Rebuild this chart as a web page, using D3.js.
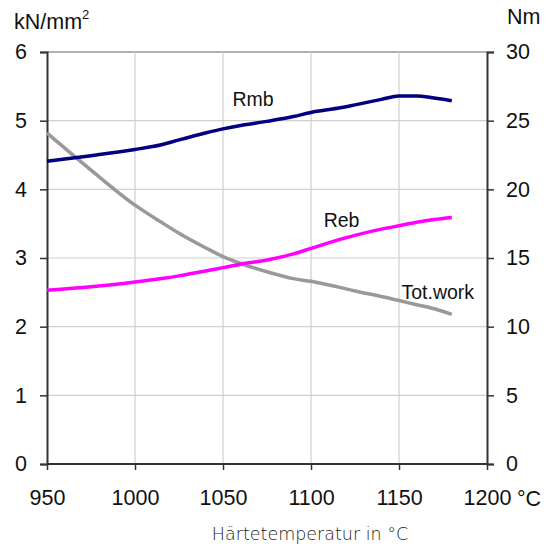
<!DOCTYPE html>
<html>
<head>
<meta charset="utf-8">
<script src="https://cdn.jsdelivr.net/npm/d3@7"></script>
<style>
  body { margin: 0; background: #fff; }
  text { font-family: "Liberation Sans", Arial, sans-serif; }
</style>
</head>
<body>
<svg id="chart" width="553" height="550"></svg>
<script>

let temps   = [950, 975, 1000, 1015, 1025, 1040, 1050, 1060, 1075, 1090, 1100, 1115, 1125, 1140, 1150, 1160, 1170, 1180];
let rmb     = [4.41, 4.49, 4.58, 4.65, 4.72, 4.82, 4.88, 4.93, 4.99, 5.06, 5.12, 5.18, 5.23, 5.31, 5.36, 5.36, 5.33, 5.29];
let reb     = [2.53, 2.58, 2.65, 2.70, 2.74, 2.81, 2.86, 2.91, 2.97, 3.06, 3.14, 3.26, 3.33, 3.42, 3.47, 3.52, 3.56, 3.59];
let totwork = [24.1, 21.4, 18.85, 17.6, 16.8, 15.75, 15.1, 14.6, 14.0, 13.5, 13.3, 12.9, 12.6, 12.2, 11.9, 11.6, 11.3, 10.9];

let xTicks = [950, 1000, 1050, 1100, 1150, 1200];
let yLeftTicks = [0, 1, 2, 3, 4, 5, 6];
let yRightTicks = [0, 5, 10, 15, 20, 25, 30];

let svg = d3.select("#chart"),
    margin = {top: 52, right: 66, bottom: 86, left: 47},
    width = 553 - margin.left - margin.right,
    height = 550 - margin.top - margin.bottom;

let x = d3.scaleLinear().domain([950, 1200]).range([0, width]);
let yL = d3.scaleLinear().domain([0, 6]).range([height, 0]);
let yR = d3.scaleLinear().domain([0, 30]).range([height, 0]);

let g = svg.append("g").attr("transform", "translate(" + margin.left + "," + margin.top + ")");

// grid
g.selectAll(".hgrid").data(yLeftTicks.slice(1)).enter().append("line")
    .attr("x1", 0).attr("x2", width)
    .attr("y1", d => yL(d)).attr("y2", d => yL(d))
    .attr("stroke", d => d == 6 ? "#999" : "#cfcfcf").attr("stroke-width", d => d == 6 ? 1.5 : 1.2);
g.selectAll(".vgrid").data(xTicks.slice(1, -1)).enter().append("line")
    .attr("x1", d => x(d)).attr("x2", d => x(d))
    .attr("y1", 0).attr("y2", height)
    .attr("stroke", "#cfcfcf").attr("stroke-width", 1.2);

// axes
let axL = g.append("g").call(d3.axisLeft(yL).tickValues(yLeftTicks).tickSize(7).tickPadding(13).tickFormat(d3.format("d")));
let axR = g.append("g").attr("transform", "translate(" + width + ",0)")
    .call(d3.axisRight(yR).tickValues(yRightTicks).tickSize(7).tickPadding(12));
let axB = g.append("g").attr("transform", "translate(0," + height + ")")
    .call(d3.axisBottom(x).tickValues(xTicks).tickSize(6).tickPadding(20).tickFormat(d3.format("d")));

[axL, axR, axB].forEach(a => {
    a.select(".domain").attr("stroke", "#333").attr("stroke-width", 2);
    a.selectAll(".tick line").attr("stroke", "#333").attr("stroke-width", 1.5);
    a.selectAll("text").attr("font-size", 21.5).attr("fill", "#111")
        .attr("font-family", "'Liberation Sans', Arial, sans-serif");
});
axB.select(".domain").attr("d", "M0,0H" + width);

// °C unit after the last x tick
g.append("text").attr("x", width + 30).attr("y", height + 42)
    .attr("font-size", 21.5).attr("fill", "#111").text("\u00B0C");

// lines
let lineL = d3.line().x((d, i) => x(temps[i])).y(d => yL(d)).curve(d3.curveMonotoneX);
let lineR = d3.line().x((d, i) => x(temps[i])).y(d => yR(d)).curve(d3.curveMonotoneX);

g.append("path").datum(totwork).attr("d", lineR)
    .attr("fill", "none").attr("stroke", "#999999").attr("stroke-width", 3.5);
g.append("path").datum(reb).attr("d", lineL)
    .attr("fill", "none").attr("stroke", "#ff00ff").attr("stroke-width", 3.5);
g.append("path").datum(rmb).attr("d", lineL)
    .attr("fill", "none").attr("stroke", "#000080").attr("stroke-width", 3.5);

// series labels
let labels = [["Rmb", 1055.4, 5.21, yL], ["Reb", 1107.2, 3.455, yL], ["Tot.work", 1151.4, 12.0, yR]];
labels.forEach(l => {
    g.append("text").attr("x", x(l[1])).attr("y", l[3](l[2]))
        .attr("font-size", 19.5).attr("fill", "#111").text(l[0]);
});

// axis titles
let t = svg.append("text").attr("x", 14).attr("y", 29).attr("font-size", 21.5).attr("fill", "#111");
t.append("tspan").text("kN/mm");
t.append("tspan").attr("font-size", 13).attr("dy", -10).text("2");

svg.append("text").attr("x", 507).attr("y", 24).attr("font-size", 21.5).attr("fill", "#111").text("Nm");

svg.append("text").attr("x", 310).attr("y", 540)
    .attr("text-anchor", "middle").attr("font-size", 17.5).attr("fill", "#222")
    .style("font-family", "'DejaVu Sans', sans-serif").style("font-weight", 300)
    .text("Härtetemperatur in °C");

</script>
</body>
</html>
